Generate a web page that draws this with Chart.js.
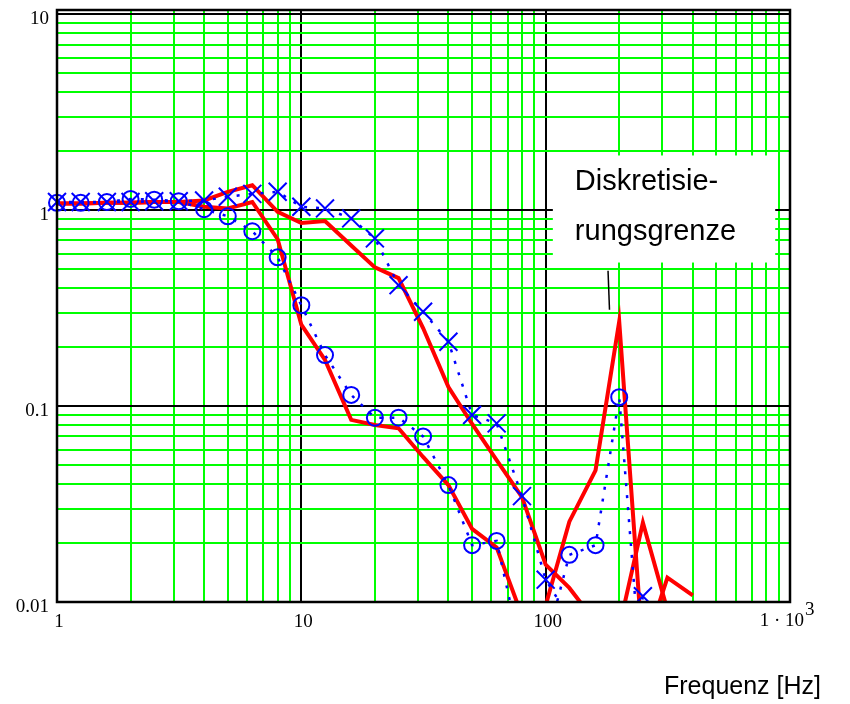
<!DOCTYPE html>
<html>
<head>
<meta charset="utf-8">
<title>Frequenzgang</title>
<script src="https://cdn.jsdelivr.net/npm/chart.js@4.4.1/dist/chart.umd.min.js"></script>
<style>
  html, body { margin: 0; padding: 0; background: #fff; }
  #wrap { width: 850px; height: 704px; position: relative; }
</style>
</head>
<body>
<div id="wrap"><canvas id="c" width="850" height="704"></canvas></div>
<script>
// Third-octave band centre frequencies [Hz]
const freq = [1, 1.25, 1.6, 2, 2.5, 3.15, 4, 5, 6.3, 8, 10, 12.5, 16, 20, 25, 31.5, 40, 50, 63, 80, 100, 125, 160, 200, 250, 315, 400];

// measured (solid red) and computed (blue, dotted) magnitude ratios
const redUpper = [1.08, 1.08, 1.09, 1.09, 1.10, 1.10, 1.12, 1.24, 1.34, 0.98, 0.86, 0.88, 0.66, 0.51, 0.45, 0.25, 0.125, 0.081, 0.053, 0.0343, 0.0155, 0.0118, 0.0079, 0.0074, 0.0254, 0.0091, 0.005];
const redLower = [1.08, 1.08, 1.09, 1.09, 1.10, 1.10, 1.04, 1.02, 1.10, 0.71, 0.26, 0.172, 0.085, 0.080, 0.077, 0.055, 0.0395, 0.0236, 0.019, 0.0085, 0.0096, 0.0257, 0.047, 0.27, 0.0055, 0.0133, 0.0108];
const blueCross = [1.10, 1.10, 1.10, 1.10, 1.11, 1.11, 1.12, 1.17, 1.21, 1.24, 1.04, 1.02, 0.907, 0.717, 0.414, 0.303, 0.213, 0.090, 0.0816, 0.0347, 0.0130, 0.0083, 0.004, 0.002, 0.0107, 0.003, 0.002];
const blueCircle = [1.09, 1.09, 1.10, 1.14, 1.13, 1.11, 1.01, 0.93, 0.78, 0.574, 0.327, 0.182, 0.114, 0.0872, 0.0872, 0.070, 0.0395, 0.0195, 0.0205, 0.0053, 0.006, 0.0174, 0.0195, 0.111, 0.0033, 0.002, 0.002];

const xTicks = [1, 10, 100, 1000];
const yTicks = [0.01, 0.1, 1, 10];
const xLabels = ["1", "10", "100", ""];   // 1000 is written as 1·10³ by the plugin below
const yLabels = ["0.01", "0.1", "1", "10"];

const BLUE = "#0000ff", RED = "#ff0000", GREEN = "#00ff00";
const SERIF = "'Liberation Serif', 'Times New Roman', serif";
const pts = ys => freq.map((f, i) => ({x: f, y: ys[i]}));
const isDecade = v => Math.abs(Math.log10(v) - Math.round(Math.log10(v))) < 1e-9;
// 1..9, 10..90, ... for the log grid
const logGrid = (lo, hi) => {
  const out = [];
  for (let d = lo; d < hi; d *= 10) for (let k = 1; k < 10; k++) out.push(+(k * d).toPrecision(3));
  out.push(hi);
  return out;
};

// frame, boxed note, 1·10³ label and axis caption
const extras = {
  id: "extras",
  afterDraw(chart) {
    const {ctx, chartArea: a, scales: {x, y}} = chart;
    ctx.save();
    ctx.strokeStyle = "#000"; ctx.lineWidth = 2.5;
    ctx.strokeRect(a.left, a.top, a.right - a.left, a.bottom - a.top);

    const bx0 = x.getPixelForValue(107), bx1 = x.getPixelForValue(870);
    const by0 = y.getPixelForValue(1.9), by1 = y.getPixelForValue(0.54);
    ctx.fillStyle = "#fff";
    ctx.fillRect(bx0, by0, bx1 - bx0, by1 - by0);
    ctx.fillStyle = "#000";
    ctx.font = "29px 'Liberation Sans', Arial, sans-serif";
    ctx.textBaseline = "middle"; ctx.textAlign = "left";
    ctx.fillText("Diskretisie-", bx0 + 22, by0 + 27);
    ctx.fillText("rungsgrenze", bx0 + 22, by0 + 77);

    ctx.lineWidth = 1.5;
    ctx.beginPath();
    ctx.moveTo(x.getPixelForValue(180), y.getPixelForValue(0.49));
    ctx.lineTo(x.getPixelForValue(182.5), y.getPixelForValue(0.31));
    ctx.stroke();

    // last x tick label with a raised exponent
    const xe = x.getPixelForValue(1000);
    ctx.font = "19px " + SERIF;
    ctx.textAlign = "right";
    ctx.fillText("1 \u00b7 10", xe + 14, a.bottom + 19);
    ctx.textAlign = "left";
    ctx.fillText("3", xe + 15, a.bottom + 8);

    ctx.font = "25px 'Liberation Sans', Arial, sans-serif";
    ctx.textAlign = "right";
    ctx.fillText("Frequenz [Hz]", 821, 687);
    ctx.restore();
  }
};

const tickFont = {family: SERIF, size: 19};

new Chart(document.getElementById("c"), {
  type: "line",
  data: {
    datasets: [
      {label: "x", data: pts(blueCross), borderColor: BLUE, borderWidth: 2.5, borderDash: [3, 9],
       pointStyle: "crossRot", pointRadius: 12.7, pointBorderWidth: 2, pointBorderColor: BLUE,
       pointBackgroundColor: "rgba(0,0,0,0)", tension: 0, clip: {left: 14, top: 0, right: 0, bottom: 0}},
      {label: "o", data: pts(blueCircle), borderColor: BLUE, borderWidth: 2.5, borderDash: [3, 9],
       pointStyle: "circle", pointRadius: 8, pointBorderWidth: 2, pointBorderColor: BLUE,
       pointBackgroundColor: "rgba(0,0,0,0)", tension: 0, clip: {left: 10, top: 0, right: 0, bottom: 0}},
      {label: "a", data: pts(redUpper), borderColor: RED, borderWidth: 4, pointRadius: 0, tension: 0, clip: 0},
      {label: "b", data: pts(redLower), borderColor: RED, borderWidth: 4, pointRadius: 0, tension: 0, clip: 0}
    ]
  },
  options: {
    responsive: false, animation: false, events: [],
    layout: {autoPadding: false, padding: {left: 0, right: 60, top: 10, bottom: 62}},
    plugins: {legend: {display: false}, tooltip: {enabled: false}},
    scales: {
      x: {
        type: "logarithmic", min: 1, max: 1000,
        afterBuildTicks: s => { s.ticks = logGrid(1, 1000).map(v => ({value: v})); },
        afterFit: s => { s.height = 40; s.paddingLeft = 0; s.paddingRight = 0; },
        grid: {color: c => isDecade(c.tick.value) ? "#000" : GREEN, lineWidth: 2, drawTicks: false},
        border: {display: false},
        ticks: {autoSkip: false, maxRotation: 0, padding: 9, labelOffset: 2, color: "#000", font: tickFont,
                callback: v => { const i = xTicks.indexOf(v); return i < 0 ? "" : xLabels[i]; }}
      },
      y: {
        type: "logarithmic", min: 0.01, max: 10.5,
        afterBuildTicks: s => { s.ticks = logGrid(0.01, 10).map(v => ({value: v})); },
        afterFit: s => { s.width = 57; s.paddingTop = 0; s.paddingBottom = 0; },
        grid: {color: c => isDecade(c.tick.value) ? "#000" : GREEN, lineWidth: 2, drawTicks: false},
        border: {display: false},
        ticks: {autoSkip: false, padding: 8, labelOffset: 5, color: "#000", font: tickFont,
                callback: v => { const i = yTicks.findIndex(t => Math.abs(t - v) < 1e-9); return i < 0 ? "" : yLabels[i]; }}
      }
    }
  },
  plugins: [extras]
});
</script>
</body>
</html>
